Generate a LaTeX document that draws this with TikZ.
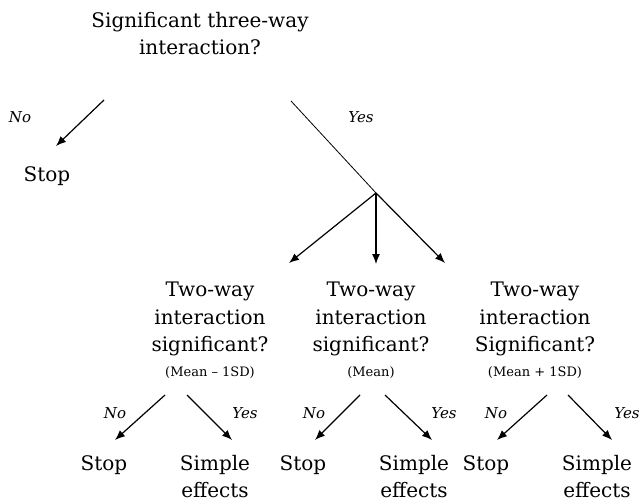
\documentclass[tikz,border=0pt]{standalone}
\usepackage{fontspec}
\setmainfont{DejaVu Serif}
\usetikzlibrary{arrows.meta}
\tikzset{
  txt/.style={inner sep=0pt, align=center, font=\fontsize{20}{27.5}\selectfont},
  lbl/.style={inner sep=0pt, font=\fontsize{15}{18}\selectfont\itshape},
  sml/.style={inner sep=0pt, font=\fontsize{13}{15}\selectfont},
  arr/.style={-{Latex[length=10pt,width=8pt]}, line width=1.2pt},
}
\begin{document}
\begin{tikzpicture}[x=1pt,y=-1pt]
    \useasboundingbox (0,0) rectangle (643,503);

    \node[txt, anchor=north] (threeway) at (200,12) {Significant three-way\\interaction?};

    \node[lbl, anchor=base] (no0) at (20,122) {No};
    \node[txt, anchor=base] (stop0) at (47,181) {Stop};
    \coordinate (no0a) at (104,100);
    \coordinate (no0b) at (56,146);
    \draw[arr] (no0a) -- (no0b);

    \node[lbl, anchor=base] (yes0) at (361,122) {Yes};
    \coordinate (yes0a) at (291,101);
    \coordinate (split) at (376,193);
    \draw[line width=0.8pt] (yes0a) -- (split);

    \node[txt, anchor=north] (low) at (210,282) {Two-way\\interaction\\significant?};
    \node[sml, anchor=base] (lowsd) at (210,376) {(Mean -- 1SD)};
    \node[txt, anchor=north] (mid) at (371,282) {Two-way\\interaction\\significant?};
    \node[sml, anchor=base] (midsd) at (371,376) {(Mean)};
    \node[txt, anchor=north] (high) at (535,282) {Two-way\\interaction\\Significant?};
    \node[sml, anchor=base] (highsd) at (535,376) {(Mean + 1SD)};
    \coordinate (lowtip) at (289,263);
    \coordinate (midtip) at (376,264);
    \coordinate (hightip) at (445,263);
    \draw[arr] (split) -- (lowtip);
    \draw[arr] (split) -- (midtip);
    \draw[arr] (split) -- (hightip);

    % Mean - 1SD
    \node[lbl, anchor=base] (no1) at (115,418) {No};
    \node[lbl, anchor=base] (yes1) at (245,418) {Yes};
    \node[txt, anchor=base] (stop1) at (104,470) {Stop};
    \node[txt, anchor=north] (simple1) at (215,455) {Simple\\effects};
    \coordinate (no1a) at (165,395);
    \coordinate (no1b) at (115,440);
    \coordinate (yes1a) at (187,395);
    \coordinate (yes1b) at (232,440);
    \draw[arr] (no1a) -- (no1b);
    \draw[arr] (yes1a) -- (yes1b);

    % Mean
    \node[lbl, anchor=base] (no2) at (314,418) {No};
    \node[lbl, anchor=base] (yes2) at (444,418) {Yes};
    \node[txt, anchor=base] (stop2) at (303,470) {Stop};
    \node[txt, anchor=north] (simple2) at (414,455) {Simple\\effects};
    \coordinate (no2a) at (360,395);
    \coordinate (no2b) at (315,440);
    \coordinate (yes2a) at (385,395);
    \coordinate (yes2b) at (432,440);
    \draw[arr] (no2a) -- (no2b);
    \draw[arr] (yes2a) -- (yes2b);

    % Mean + 1SD
    \node[lbl, anchor=base] (no3) at (496,418) {No};
    \node[lbl, anchor=base] (yes3) at (627,418) {Yes};
    \node[txt, anchor=base] (stop3) at (486,470) {Stop};
    \node[txt, anchor=north] (simple3) at (597,455) {Simple\\effects};
    \coordinate (no3a) at (547,395);
    \coordinate (no3b) at (497,440);
    \coordinate (yes3a) at (568,395);
    \coordinate (yes3b) at (612,440);
    \draw[arr] (no3a) -- (no3b);
    \draw[arr] (yes3a) -- (yes3b);
\end{tikzpicture}
\end{document}
